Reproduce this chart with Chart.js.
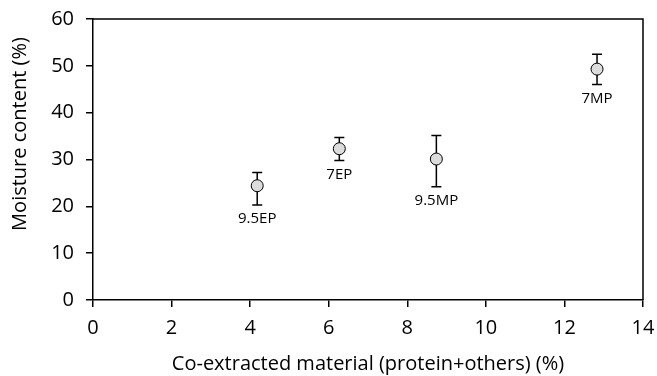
<!DOCTYPE html>
<html>
<head>
<meta charset="utf-8">
<script src="https://cdn.jsdelivr.net/npm/chart.js@4"></script>
<style>
html,body{margin:0;padding:0;background:#fff;}
#wrap{width:657px;height:376px;}
</style>
</head>
<body>
<div id="wrap"><canvas id="c" width="657" height="376"></canvas></div>
<script>
const sampleLabels = ["9.5EP", "7EP", "9.5MP", "7MP"];
const coExtracted = [4.18, 6.27, 8.74, 12.83];
const moisture = [24.4, 32.3, 30.1, 49.3];
const errLow = [20.3, 29.8, 24.2, 46.0];
const errHigh = [27.2, 34.7, 35.1, 52.5];
const xTicks = [0, 2, 4, 6, 8, 10, 12, 14];
const yTicks = [0, 10, 20, 30, 40, 50, 60];
const xTitle = 'Co-extracted material (protein+others) (%)';
const yTitle = 'Moisture content (%)';

const FONT = "'Open Sans', 'Noto Sans', sans-serif";

const errorBarPlugin = {
  id: 'errorBars',
  afterDatasetsDraw(chart) {
    const {ctx, chartArea} = chart;
    ctx.save();
    ctx.strokeStyle = '#000';
    ctx.lineWidth = 1.5;
    ctx.beginPath();
    ctx.moveTo(chartArea.left, chartArea.top);
    ctx.lineTo(chartArea.right, chartArea.top);
    ctx.lineTo(chartArea.right, chartArea.bottom);
    ctx.stroke();
    ctx.restore();
  },
  afterDraw(chart) {
    const {ctx} = chart;
    ctx.save();
    ctx.fillStyle = '#000';
    ctx.font = "20px " + FONT;
    ctx.textAlign = 'center';
    ctx.textBaseline = 'middle';
    ctx.translate(20, 134);
    ctx.rotate(-Math.PI / 2);
    ctx.fillText(yTitle, 0, 0);
    ctx.restore();
  },
  beforeDatasetsDraw(chart) {
    const {ctx, scales: {x, y}} = chart;
    ctx.save();
    ctx.strokeStyle = '#000';
    ctx.lineWidth = 1.5;
    coExtracted.forEach((xv, i) => {
      const px = x.getPixelForValue(xv);
      const pl = y.getPixelForValue(errLow[i]);
      const ph = y.getPixelForValue(errHigh[i]);
      ctx.beginPath();
      ctx.moveTo(px, pl); ctx.lineTo(px, ph);
      ctx.moveTo(px - 5, pl); ctx.lineTo(px + 5, pl);
      ctx.moveTo(px - 5, ph); ctx.lineTo(px + 5, ph);
      ctx.stroke();
    });
    ctx.fillStyle = '#000';
    ctx.font = "15px " + FONT;
    ctx.textAlign = 'center';
    ctx.textBaseline = 'middle';
    coExtracted.forEach((xv, i) => {
      const px = x.getPixelForValue(xv);
      const pl = y.getPixelForValue(errLow[i]);
      ctx.fillText(sampleLabels[i], px, pl + 14);
    });
    ctx.restore();
  }
};

new Chart(document.getElementById('c'), {
  type: 'scatter',
  data: {
    datasets: [{
      data: coExtracted.map((v, i) => ({x: v, y: moisture[i]})),
      pointRadius: 6,
      pointHoverRadius: 6,
      pointBackgroundColor: '#dcdcdc',
      pointBorderColor: '#000',
      pointBorderWidth: 1,
      showLine: false
    }]
  },
  options: {
    responsive: false,
    animation: false,
    devicePixelRatio: 1,
    layout: {padding: {top: 19, right: 14, left: 0, bottom: 0}},
    plugins: {legend: {display: false}, tooltip: {enabled: false}},
    scales: {
      x: {
        type: 'linear',
        min: 0, max: 14,
        afterBuildTicks(s) { s.ticks = xTicks.map(v => ({value: v})); },
        afterFit(s) { s.height = 76; s.paddingLeft = 0; s.paddingRight = 0; },
        ticks: {color: '#000', font: {family: FONT, size: 20}, padding: 9, maxRotation: 0},
        grid: {display: true, drawOnChartArea: false, drawTicks: true, tickLength: 7, color: '#000', lineWidth: 1.5},
        border: {display: true, color: '#000', width: 1.5},
        title: {display: true, text: xTitle, color: '#000', font: {family: FONT, size: 20}, padding: {top: 2, bottom: 0}}
      },
      y: {
        type: 'linear',
        min: 0, max: 60,
        afterBuildTicks(s) { s.ticks = yTicks.map(v => ({value: v})); },
        afterFit(s) { s.width = 93; s.paddingTop = 0; s.paddingBottom = 0; },
        ticks: {color: '#000', font: {family: FONT, size: 20}, padding: 12},
        grid: {display: true, drawOnChartArea: false, drawTicks: true, tickLength: 7, color: '#000', lineWidth: 1.5},
        border: {display: true, color: '#000', width: 1.5},
        title: {display: false}
      }
    }
  },
  plugins: [errorBarPlugin]
});
</script>
</body>
</html>
